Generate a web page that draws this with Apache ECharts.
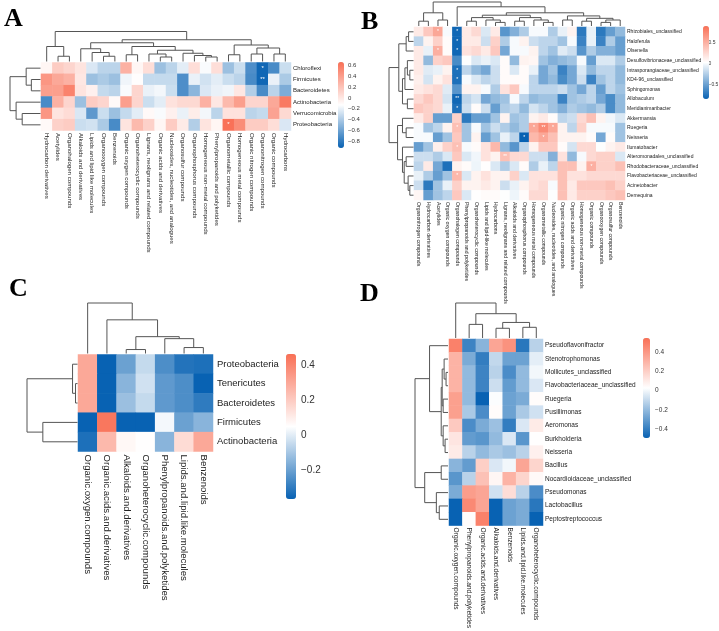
<!DOCTYPE html>
<html>
<head>
<meta charset="utf-8">
<script src="https://cdn.jsdelivr.net/npm/echarts@6/dist/echarts.min.js"></script>
<style>
html, body { margin: 0; padding: 0; background: #fff; }
#chart { width: 719px; height: 631px; }
</style>
</head>
<body>
<div id="chart"></div>
<script>

// ---------- panel A ----------
var aRows = ['Chloroflexi', 'Firmicutes', 'Bacteroidetes', 'Actinobacteria', 'Verrucomicrobia', 'Proteobacteria'];
var aCols = ['Hydrocarbon derivatives', 'Acetylides', 'Organohalogen compounds', 'Alkaloids and derivatives',
	'Lipids and lipid like molecules', 'Organooxygen compounds', 'Benzenoids', 'Organic oxygen compounds',
	'Organoheterocyclic compounds', 'Lignans, neolignans and related compounds', 'Organic acids and derivatives',
	'Nucleosides, nucleotides, and analogues', 'Organosulfur compounds', 'Organophosphorus compounds',
	'Homogeneous non-metal compounds', 'Phenylpropanoids and polyketides', 'Organometallic compounds',
	'Homogeneous metal compounds', 'Organic nitrogen compounds', 'Organonitrogen compounds', 'Organic compounds', 'Hydrocarbons'];
var aValues = [
	[-0.08, 0.15, 0.1, 0.02, -0.25, -0.35, -0.35, 0.3, -0.08, 0.05, -0.45, -0.35, -0.22, 0.05, -0.15, 0.05, -0.45, -0.3, -0.7, -0.9, -0.72, -0.3],
	[0.45, 0.35, 0.3, 0.0, -0.45, -0.4, -0.45, -0.18, -0.12, -0.32, -0.32, -0.32, -0.7, -0.2, -0.28, -0.22, -0.3, -0.35, -0.72, -0.9, -0.2, -0.4],
	[0.4, 0.4, 0.55, 0.02, -0.05, -0.32, -0.35, -0.15, 0.1, -0.2, -0.17, -0.3, -0.7, -0.5, -0.25, -0.2, -0.18, 0.0, -0.38, -0.72, -0.35, -0.55],
	[-0.72, 0.3, 0.1, -0.45, 0.15, 0.1, -0.1, 0.4, 0.1, -0.3, -0.22, 0.03, 0.08, 0.08, 0.3, 0.0, 0.25, 0.4, 0.1, 0.1, 0.35, 0.6],
	[0.45, 0.02, 0.06, -0.25, -0.65, -0.3, -0.45, -0.32, -0.22, -0.1, -0.15, -0.05, -0.2, -0.03, -0.17, -0.35, 0.03, 0.03, -0.35, -0.32, 0.38, 0.08],
	[-0.1, 0.12, 0.15, -0.3, -0.28, -0.4, -0.72, 0.02, 0.25, 0.12, -0.08, 0.15, -0.02, -0.38, 0.02, -0.08, 0.65, 0.5, 0.15, 0.15, 0.05, -0.25]
];
var aStars = [[0, 19, '*'], [1, 19, '**'], [5, 16, '*']];
var aTicks = [-0.8, -0.6, -0.4, -0.2, 0, 0.2, 0.4, 0.6];
var aRange = [-0.925, 0.663];
// merges: [left, right, height]; negative = leaf (-1 is the first leaf), positive = earlier merge
var aColTree = [[-2, -3, 0.35], [-1, 1, 1.0], [-6, -7, 0.35], [-5, 3, 0.6], [-4, 4, 0.85], [-8, -9, 0.45],
	[-11, -12, 0.3], [-10, 7, 0.5], [-15, -16, 0.3], [-14, 9, 0.4], [-13, 10, 0.55], [8, 11, 0.75],
	[6, 12, 1.0], [5, 13, 1.25], [-17, -18, 0.45], [-19, -20, 0.5], [-21, -22, 0.5], [16, 17, 0.9],
	[15, 18, 1.1], [14, 19, 1.45], [2, 20, 2.0]];
var aRowTree = [[-2, -3, 0.3], [-1, 1, 0.47], [-5, -6, 0.6], [-4, 3, 0.8], [2, 4, 1.0]];

// ---------- panel B ----------
var bRows = ['Rhizobiales_unclassified', 'Haloferula', 'Olsenella', 'Desulfovibrionaceae_unclassified',
	'Intrasporangiaceae_unclassified', 'KD4-96_unclassified', 'Sphingomonas', 'Allobaculum', 'Meridianimaribacter',
	'Akkermansia', 'Ruegeria', 'Neisseria', 'Ilumatobacter', 'Alteromonadales_unclassified',
	'Rhodobacteraceae_unclassified', 'Flavobacteriaceae_unclassified', 'Acinetobacter', 'Demequina'];
var bCols = ['Organonitrogen compounds', 'Hydrocarbon derivatives', 'Acetylides', 'Organic oxygen compounds',
	'Organohalogen compounds', 'Phenylpropanoids and polyketides', 'Organoheterocyclic compounds',
	'Lipids and lipid-like molecules', 'Hydrocarbons', 'Lignans, neolignans and related compounds',
	'Alkaloids and derivatives', 'Organophosphorus compounds', 'Homogeneous metal compounds',
	'Organometallic compounds', 'Nucleosides, nucleotides, and analogues', 'Organic nitrogen compounds',
	'Organic acids and derivatives', 'Homogeneous non-metal compounds', 'Organic compounds',
	'Organooxygen compounds', 'Organosulfur compounds', 'Benzenoids'];
var bValues = [
	[0.15, 0.35, 0.55, 0.0, -0.8, 0.15, 0.25, -0.1, 0.15, -0.55, -0.4, -0.25, 0.0, 0.0, -0.25, -0.05, 0.1, -0.7, -0.05, -0.7, -0.5, -0.35],
	[-0.2, 0.1, 0.3, 0.05, -0.8, 0.15, 0.15, -0.15, 0.3, -0.25, 0.0, 0.1, -0.15, -0.2, -0.2, -0.3, 0.0, -0.65, -0.05, -0.65, -0.25, -0.5],
	[0.15, -0.05, 0.5, 0.05, -0.8, 0.2, 0.25, 0.15, 0.35, -0.45, 0.0, 0.0, 0.1, -0.2, -0.3, -0.08, -0.15, -0.55, -0.25, -0.4, -0.4, -0.5],
	[0.15, -0.35, 0.3, 0.35, -0.6, 0.02, -0.1, -0.05, -0.1, 0.05, -0.35, 0.1, 0.08, -0.3, -0.4, -0.35, -0.3, 0.0, -0.5, -0.1, -0.1, -0.25],
	[0.15, -0.08, -0.05, 0.1, -0.75, -0.2, -0.35, -0.45, -0.15, 0.05, -0.1, 0.05, -0.05, -0.45, -0.3, -0.65, -0.45, -0.1, -0.35, -0.2, -0.2, -0.35],
	[0.12, -0.12, 0.1, 0.2, -0.75, 0.0, -0.1, -0.2, -0.15, 0.05, 0.05, 0.05, -0.2, -0.45, -0.35, -0.6, -0.45, -0.15, -0.65, -0.3, -0.2, -0.35],
	[0.15, 0.2, 0.25, -0.08, -0.55, 0.1, 0.1, 0.0, -0.25, 0.2, 0.35, 0.0, -0.2, -0.2, -0.2, -0.15, -0.3, -0.45, -0.2, -0.5, -0.2, -0.3],
	[0.25, 0.35, 0.25, -0.12, -0.8, -0.2, -0.12, -0.45, -0.35, -0.3, 0.0, -0.2, -0.35, -0.3, -0.3, -0.65, -0.3, -0.25, -0.2, -0.45, -0.6, -0.35],
	[0.35, 0.3, 0.25, -0.05, -0.75, -0.15, 0.05, -0.15, -0.5, -0.25, -0.2, -0.35, -0.12, -0.2, -0.3, -0.4, -0.25, -0.3, -0.35, -0.25, -0.6, -0.35],
	[0.15, 0.3, -0.5, -0.5, 0.3, -0.7, -0.5, -0.5, -0.3, 0.1, -0.3, -0.25, 0.1, 0.15, 0.05, -0.2, -0.15, 0.25, 0.4, 0.1, -0.02, -0.1],
	[0.0, -0.3, -0.2, 0.1, 0.4, -0.3, 0.0, -0.3, -0.15, -0.25, -0.35, -0.25, 0.55, 0.72, 0.55, 0.1, -0.2, 0.3, 0.0, 0.0, 0.0, -0.3],
	[0.0, 0.0, -0.5, -0.3, 0.35, -0.3, 0.1, -0.5, -0.3, -0.05, -0.2, -0.83, 0.45, 0.55, 0.4, 0.1, 0.1, 0.1, 0.05, -0.45, 0.05, -0.3],
	[-0.5, -0.3, 0.12, 0.3, 0.4, 0.0, 0.05, 0.2, 0.45, -0.35, -0.55, -0.2, 0.1, 0.35, 0.35, 0.05, -0.12, 0.25, 0.25, 0.02, 0.1, 0.15],
	[-0.15, -0.15, -0.25, -0.1, 0.35, -0.1, -0.02, 0.2, 0.1, 0.4, 0.25, 0.25, -0.15, -0.15, -0.4, 0.2, -0.35, 0.0, 0.25, 0.3, 0.3, -0.1],
	[-0.2, 0.15, -0.45, -0.75, 0.1, 0.05, -0.03, 0.03, -0.1, -0.25, -0.1, 0.05, -0.25, -0.05, -0.2, 0.4, 0.4, 0.1, 0.5, 0.3, 0.3, 0.4],
	[-0.05, -0.25, -0.5, -0.3, 0.45, -0.1, 0.1, 0.2, 0.1, 0.1, 0.3, -0.1, 0.2, 0.2, 0.2, 0.4, 0.2, 0.2, 0.25, 0.25, 0.25, 0.25],
	[-0.15, -0.7, -0.3, -0.05, 0.3, 0.1, 0.1, 0.15, 0.1, -0.15, -0.05, 0.1, 0.2, 0.25, 0.0, 0.4, 0.15, 0.35, 0.35, 0.35, 0.4, 0.3],
	[0.08, -0.5, -0.3, -0.2, 0.35, -0.1, 0.03, 0.05, 0.05, 0.02, -0.03, 0.05, 0.25, 0.25, 0.02, 0.4, 0.15, 0.3, 0.3, 0.3, 0.35, 0.4]
];
var bStars = [[0, 2, '*'], [0, 4, '*'], [1, 4, '*'], [2, 2, '*'], [2, 4, '*'], [4, 4, '*'], [5, 4, '*'],
	[7, 4, '**'], [8, 4, '*'], [10, 4, '*'], [10, 12, '*'], [10, 13, '**'], [10, 14, '*'], [11, 11, '*'],
	[11, 13, '*'], [12, 4, '*'], [13, 9, '**'], [14, 18, '*'], [15, 4, '*']];
var bTicks = [-0.5, 0, 0.5];
var bRange = [-0.826, 0.88];
var bColTree = [[-1, -2, 0.2], [-3, -4, 0.25], [1, 2, 0.55], [-6, -7, 0.2], [-9, -10, 0.15], [-8, 5, 0.25],
	[4, 6, 0.35], [-11, -12, 0.2], [-14, -15, 0.15], [-13, 9, 0.25], [8, 10, 0.35], [7, 11, 0.45],
	[-16, -17, 0.25], [-18, -19, 0.2], [-20, -21, 0.15], [15, -22, 0.25], [14, 16, 0.32], [13, 17, 0.42],
	[12, 18, 0.55], [-5, 19, 0.8], [3, 20, 1.0]];
var bRowTree = [[-1, -2, 0.2], [1, -3, 0.3], [-5, -6, 0.15], [-4, 3, 0.25], [4, -7, 0.35], [-8, -9, 0.25],
	[5, 6, 0.45], [2, 7, 0.6], [-11, -12, 0.3], [-10, 9, 0.45], [-17, -18, 0.15], [-16, 11, 0.22],
	[-14, -15, 0.3], [13, 12, 0.38], [-13, 14, 0.45], [10, 15, 0.65], [8, 16, 1.0]];

// ---------- panel C ----------
var cRows = ['Proteobacteria', 'Tenericutes', 'Bacteroidetes', 'Firmicutes', 'Actinobacteria'];
var cCols = ['Organic.oxygen.compounds', 'Organic.acids.and.derivatives', 'Alkaloids.and.derivatives',
	'Organoheterocyclic.compounds', 'Phenylpropanoids.and.polyketides', 'Lipids.and.lipid.like.molecules', 'Benzenoids'];
var cValues = [
	[0.3, -0.37, -0.2, -0.05, -0.25, -0.32, -0.33],
	[0.3, -0.37, -0.15, -0.03, -0.22, -0.25, -0.37],
	[0.3, -0.37, -0.12, -0.05, -0.22, -0.25, -0.3],
	[-0.37, 0.44, -0.37, -0.37, 0.03, -0.2, -0.15],
	[-0.33, 0.25, 0.07, 0.05, -0.15, 0.15, 0.3]
];
var cTicks = [-0.2, 0, 0.2, 0.4];
var cRange = [-0.366, 0.463];
var cColTree = [[-3, -4, 4], [-6, -7, 6], [-5, 2, 15], [1, 3, 17], [-2, 4, 34], [-1, 5, 51]];
var cRowTree = [[-2, -3, 2], [-1, 1, 5], [-4, -5, 35], [2, 3, 51]];

// ---------- panel D ----------
var dRows = ['Pseudoflavonifractor', 'Stenotrophomonas', 'Mollicutes_unclassified', 'Flavobacteriaceae_unclassified',
	'Ruegeria', 'Pusillimonas', 'Aeromonas', 'Burkholderia', 'Neisseria', 'Bacillus',
	'Nocardioidaceae_unclassified', 'Pseudomonas', 'Lactobacillus', 'Peptostreptococcus'];
var dCols = ['Organic.oxygen.compounds', 'Phenylpropanoids.and.polyketides', 'Organic.acids.and.derivatives',
	'Alkaloids.and.derivatives', 'Benzenoids', 'Lipids.and.lipid.like.molecules', 'Organoheterocyclic.compounds'];
var dValues = [
	[0.48, -0.38, -0.22, 0.35, 0.42, -0.42, -0.12],
	[0.3, -0.25, -0.4, -0.1, -0.28, -0.28, -0.03],
	[0.3, -0.2, -0.38, -0.12, -0.35, -0.2, 0.0],
	[0.3, -0.2, -0.38, -0.08, -0.3, -0.2, -0.05],
	[0.37, -0.2, -0.49, 0.02, -0.28, -0.25, 0.04],
	[0.37, -0.15, -0.35, 0.04, -0.28, -0.15, -0.07],
	[0.22, -0.35, -0.25, -0.18, -0.4, -0.05, 0.1],
	[0.12, -0.3, -0.32, -0.2, -0.05, -0.32, 0.03],
	[0.1, -0.12, -0.2, -0.15, -0.18, -0.12, 0.08],
	[-0.22, -0.3, 0.2, -0.05, 0.0, 0.35, 0.18],
	[-0.32, -0.12, 0.25, 0.06, 0.3, 0.18, 0.05],
	[-0.25, 0.38, 0.35, -0.07, 0.15, -0.12, -0.35],
	[-0.49, 0.45, 0.35, -0.49, -0.28, -0.25, -0.42],
	[-0.49, 0.04, 0.48, -0.49, -0.28, -0.25, -0.49]
];
var dTicks = [-0.4, -0.2, 0, 0.2, 0.4];
var dRange = [-0.49, 0.545];
var dColTree = [[-2, -3, 14], [-4, -5, 10], [-6, -7, 11], [2, 3, 16], [1, 4, 25], [-1, 5, 36]];
var dRowTree = [[-3, -4, 2], [-2, 1, 4], [-5, -6, 5], [2, 3, 6], [-8, -9, 3], [-7, 5, 5], [4, 6, 7],
	[-1, 7, 19], [-10, -11, 7], [-13, -14, 9], [-12, 10, 12], [9, 11, 24], [8, 12, 34]];


var palette = ['#0862b3', '#ffffff', '#f96f55'];
var labelFont = '"Liberation Sans", Arial, sans-serif';


// turn a merge list into line segments [pos1, h1, pos2, h2]
function treeSegments(merges) {
	var pos = [], hgt = [], segs = [];
	function get(k) {
		if (k < 0) return [-k - 1, 0];
		return [pos[k - 1], hgt[k - 1]];
	}
	merges.forEach(function (m) {
		var a = get(m[0]), b = get(m[1]), h = m[2];
		segs.push([a[0], a[1], a[0], h]);
		segs.push([b[0], b[1], b[0], h]);
		segs.push([a[0], h, b[0], h]);
		pos.push((a[0] + b[0]) / 2);
		hgt.push(h);
	});
	return segs;
}

function drawSeg(params, api) {
	var p1 = api.coord([api.value(0), api.value(1)]);
	var p2 = api.coord([api.value(2), api.value(3)]);
	return {
		type: 'line',
		shape: { x1: p1[0], y1: p1[1], x2: p2[0], y2: p2[1] },
		style: { stroke: '#555', lineWidth: 1 }
	};
}

function minusSign(v) {
	return (v < 0 ? '\u2212' : '') + Math.abs(v);
}

var hidden = { show: false };

function addPanel(o, p) {
	var box = p.box;

	// heatmap
	var g = o.grid.length;
	o.grid.push({ left: box[0], top: box[1], width: box[2], height: box[3] });
	o.xAxis.push({
		type: 'category', gridIndex: g, data: p.cols, position: 'bottom',
		axisLine: hidden, axisTick: hidden, splitLine: hidden,
		axisLabel: { interval: 0, rotate: -90, fontSize: p.colFont, margin: p.colMargin, color: '#222', fontFamily: labelFont }
	});
	o.yAxis.push({
		type: 'category', gridIndex: g, data: p.rows, inverse: true, position: 'right',
		axisLine: hidden, axisTick: hidden, splitLine: hidden,
		axisLabel: { interval: 0, fontSize: p.rowFont, margin: p.rowMargin, color: '#222', fontFamily: labelFont }
	});
	var cells = [];
	p.values.forEach(function (row, r) {
		row.forEach(function (v, c) { cells.push([c, r, v]); });
	});
	var starMap = {};
	p.stars.forEach(function (s) { starMap[s[0] + '_' + s[1]] = s[2]; });
	o.series.push({
		type: 'heatmap', xAxisIndex: g, yAxisIndex: g, data: cells, silent: true,
		itemStyle: { borderWidth: 0 },
		label: {
			show: true, color: '#fff', fontSize: p.starFont, fontFamily: labelFont,
			formatter: function (q) { return starMap[q.value[1] + '_' + q.value[0]] || ''; }
		},
		emphasis: { disabled: true }
	});
	var bar = p.bar;
	o.visualMap.push({
		type: 'continuous', seriesIndex: o.series.length - 1, dimension: 2,
		min: p.range[0], max: p.range[1], calculable: false, realtime: false,
		inRange: { color: palette }, orient: 'vertical', padding: 0,
		left: bar[0], top: bar[1], itemWidth: bar[2], itemHeight: bar[3], hoverLink: false
	});

	// colour bar ticks
	g = o.grid.length;
	o.grid.push({ left: bar[0], top: bar[1], width: bar[2], height: bar[3] });
	o.xAxis.push({ type: 'value', gridIndex: g, show: false, min: 0, max: 1 });
	o.yAxis.push({
		type: 'value', gridIndex: g, position: 'right', min: p.range[0], max: p.range[1],
		axisLine: hidden, axisTick: hidden, splitLine: hidden,
		axisLabel: { customValues: p.ticks, formatter: minusSign, fontSize: p.barFont, margin: p.barMargin, color: '#333', fontFamily: labelFont }
	});

	// column dendrogram
	var nCol = p.cols.length, nRow = p.rows.length;
	var colRoot = p.colTree[p.colTree.length - 1][2];
	g = o.grid.length;
	o.grid.push({ left: box[0], top: p.colDen[0], width: box[2], height: p.colDen[1] });
	o.xAxis.push({ type: 'value', gridIndex: g, show: false, min: -0.5, max: nCol - 0.5 });
	o.yAxis.push({ type: 'value', gridIndex: g, show: false, min: 0, max: colRoot });
	o.series.push({
		type: 'custom', xAxisIndex: g, yAxisIndex: g, silent: true, clip: false,
		renderItem: drawSeg, data: treeSegments(p.colTree)
	});

	// row dendrogram
	var rowRoot = p.rowTree[p.rowTree.length - 1][2];
	g = o.grid.length;
	o.grid.push({ left: p.rowDen[0], top: box[1], width: p.rowDen[1], height: box[3] });
	o.xAxis.push({ type: 'value', gridIndex: g, show: false, min: 0, max: rowRoot, inverse: true });
	o.yAxis.push({ type: 'value', gridIndex: g, show: false, min: -0.5, max: nRow - 0.5, inverse: true });
	o.series.push({
		type: 'custom', xAxisIndex: g, yAxisIndex: g, silent: true, clip: false,
		renderItem: drawSeg,
		data: treeSegments(p.rowTree).map(function (s) { return [s[1], s[0], s[3], s[2]]; })
	});
}


var myChart = echarts.init(document.getElementById('chart'), null, { renderer: 'canvas' });

var option = {
	backgroundColor: '#fff',
	animation: false,
	grid: [], xAxis: [], yAxis: [], series: [], visualMap: [],
	graphic: [
		{ type: 'text', left: 4, top: 6, style: { text: 'A', font: 'bold 26px "Liberation Serif", serif', fill: '#000' } },
		{ type: 'text', left: 361, top: 9, style: { text: 'B', font: 'bold 26px "Liberation Serif", serif', fill: '#000' } },
		{ type: 'text', left: 9, top: 276, style: { text: 'C', font: 'bold 26px "Liberation Serif", serif', fill: '#000' } },
		{ type: 'text', left: 360, top: 281, style: { text: 'D', font: 'bold 26px "Liberation Serif", serif', fill: '#000' } }
	]
};

addPanel(option, {
	rows: aRows, cols: aCols, values: aValues, stars: aStars, ticks: aTicks, range: aRange,
	colTree: aColTree, rowTree: aRowTree,
	box: [41, 62.5, 250, 68], colDen: [31.5, 30], rowDen: [10, 30.5], bar: [338, 62, 6, 86],
	colFont: 6.1, rowFont: 6, barFont: 6, starFont: 6, colMargin: 2.5, rowMargin: 2, barMargin: 4
});
addPanel(option, {
	rows: bRows, cols: bCols, values: bValues, stars: bStars, ticks: bTicks, range: bRange,
	colTree: bColTree, rowTree: bRowTree,
	box: [414, 27, 211, 173], colDen: [2, 24], rowDen: [389, 24.5], bar: [703, 26, 6, 73],
	colFont: 5.2, rowFont: 5, barFont: 5, starFont: 5, colMargin: 2, rowMargin: 2, barMargin: 4
});
addPanel(option, {
	rows: cRows, cols: cCols, values: cValues, stars: [], ticks: cTicks, range: cRange,
	colTree: cColTree, rowTree: cRowTree,
	box: [78, 354.5, 135, 97], colDen: [303, 50.5], rowDen: [27, 50.5], bar: [286, 354, 10, 145],
	colFont: 9.6, rowFont: 9.5, barFont: 10, starFont: 8, colMargin: 3, rowMargin: 4, barMargin: 5
});
addPanel(option, {
	rows: dRows, cols: dCols, values: dValues, stars: [], ticks: dTicks, range: dRange,
	colTree: dColTree, rowTree: dRowTree,
	box: [449, 339, 94, 187], colDen: [303, 35], rowDen: [415, 33], bar: [643, 338, 7, 100],
	colFont: 6.6, rowFont: 6.5, barFont: 6.5, starFont: 6, colMargin: 2, rowMargin: 2, barMargin: 5
});

myChart.setOption(option);

</script>
</body>
</html>
